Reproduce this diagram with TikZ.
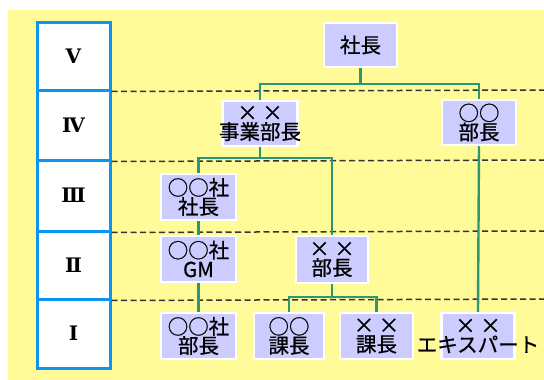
\documentclass[tikz,border=0pt]{standalone}
\usepackage{fontspec}
\newfontfamily\jp[FakeBold=0.7]{Noto Sans CJK JP}
\newfontfamily\rn{DejaVu Serif}
\definecolor{bgyellow}{RGB}{255,251,153}
\definecolor{boxlav}{RGB}{204,204,255}
\definecolor{colblue}{RGB}{10,150,240}
\definecolor{teal}{RGB}{45,150,120}
\tikzset{
  post/.style={rectangle, fill=boxlav, draw=white, line width=2.5pt, inner sep=0pt,
    align=center, font=\jp\fontsize{20.5}{19}\selectfont, text=black},
  conn/.style={draw=teal, line width=2.4pt},
  level/.style={draw=black!80, line width=1.5pt, dash pattern=on 6pt off 3.5pt},
  rowcell/.style={rectangle, draw=colblue, fill=white, line width=3pt, minimum width=73pt,
    font=\rn\bfseries\fontsize{20}{20}\selectfont, inner sep=0pt},
}
\begin{document}
\begin{tikzpicture}[x=1pt,y=-1pt]
\useasboundingbox (0,0) rectangle (544,380);
\fill[white] (0,0) rectangle (544,380);
\fill[bgyellow] (8,10) rectangle (544,380);
% level column
\node[rowcell, minimum height=68pt] (r5) at (73.5,56) {Ⅴ};
\node[rowcell, minimum height=70pt] (r4) at (73.5,125) {Ⅳ};
\node[rowcell, minimum height=71pt] (r3) at (73.5,195.5) {Ⅲ};
\node[rowcell, minimum height=68pt] (r2) at (73.5,265) {Ⅱ};
\node[rowcell, minimum height=69pt] (r1) at (73.5,333.5) {Ⅰ};
% dashed level lines
\coordinate (e4) at (544,90);
\coordinate (e3) at (544,160);
\coordinate (e2) at (544,231);
\coordinate (e1) at (544,299);
\draw[level] (r5.south east) -- (e4);
\draw[level] (r4.south east) -- (e3);
\draw[level] (r3.south east) -- (e2);
\draw[level] (r2.south east) -- (e1);
% posts
\node[post, minimum width=73pt, minimum height=44pt] (shacho) at (360.5,45) {社長};
\node[post, minimum width=75pt, minimum height=45pt] (jigyo) at (260,123.5) {× ×\\\makebox[0pt][c]{事業部長}};
\node[post, minimum width=74pt, minimum height=45pt] (bucho) at (479,122.5) {○○\\部長};
\node[post, minimum width=75pt, minimum height=46pt] (kshacho) at (198.5,197) {○○社\\社長};
\node[post, minimum width=75pt, minimum height=46pt] (kgm) at (198.5,259) {○○社\\GM};
\node[post, minimum width=75pt, minimum height=46pt] (kbucho) at (198.5,336) {○○社\\部長};
\node[post, minimum width=72pt, minimum height=47pt] (xbucho) at (332,259.5) {× ×\\部長};
\node[post, minimum width=70pt, minimum height=46pt] (kacho1) at (289,336) {○○\\課長};
\node[post, minimum width=73pt, minimum height=46pt] (kacho2) at (376.5,336) {× ×\\課長};
\node[post, minimum width=73pt, minimum height=46pt] (expert) at (478,336) {× ×\\\makebox[0pt][c]{エキスパート}};
% connectors
\draw[conn] (shacho.south) -- ++(0,16);
\draw[conn] (jigyo.north) -- ++(0,-16) -| (bucho.north);
\draw[conn] (jigyo.south) -- ++(0,11) coordinate (j1);
\draw[conn] (kshacho.north) |- (j1) -| (xbucho.north);
\draw[conn] (kshacho.south) -- (kgm.north);
\draw[conn] (kgm.south) -- (kbucho.north);
\draw[conn] (bucho.south) -- (expert.north);
\draw[conn] (xbucho.south) -- ++(0,13) coordinate (b1);
\draw[conn] (kacho1.north) |- (b1) -| (kacho2.north);
\end{tikzpicture}
\end{document}
